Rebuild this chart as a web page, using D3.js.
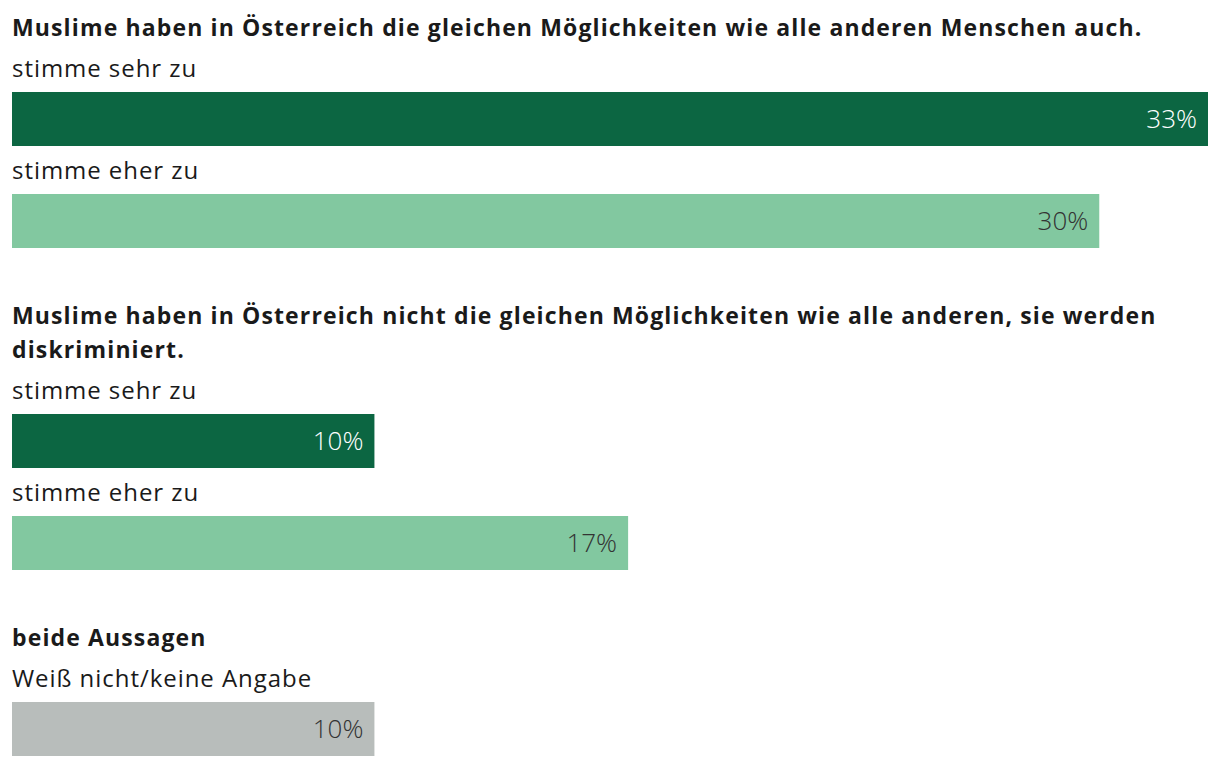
<!DOCTYPE html>
<html><head><meta charset="utf-8">
<script src="https://cdn.jsdelivr.net/npm/d3@7"></script>
<style>
html,body{margin:0;padding:0;background:#fff;}
svg{display:block;}
</style></head>
<body>
<script>
const groupTitles = [
  ["Muslime haben in Österreich die gleichen Möglichkeiten wie alle anderen Menschen auch."],
  ["Muslime haben in Österreich nicht die gleichen Möglichkeiten wie alle anderen, sie werden", "diskriminiert."],
  ["beide Aussagen"]
];
const categories = [
  ["stimme sehr zu", "stimme eher zu"],
  ["stimme sehr zu", "stimme eher zu"],
  ["Weiß nicht/keine Angabe"]
];
const values = [
  [33, 30],
  [10, 17],
  [10]
];
const colorKeys = [
  ["sehr", "eher"],
  ["sehr", "eher"],
  ["na"]
];
const palette = {sehr: "#0c6642", eher: "#82c8a0", na: "#b8bdbb"};
const labelColor = {sehr: "#ffffff", eher: "#333333", na: "#333333"};

const W = 1220, H = 766;
const svg = d3.select("body").append("svg").attr("width", W).attr("height", H);
const font = "'Open Sans', sans-serif";

const allVals = values.flat();
const x = d3.scaleLinear().domain([0, d3.max(allVals)]).range([12, 1208]);

const titleLine = 34, barH = 54;
let y = 28; // center of first title line
groupTitles.forEach((lines, gi) => {
  lines.forEach((ln, li) => {
    svg.append("text").attr("x", 12).attr("y", y + li * titleLine)
      .attr("dy", "0.35em").attr("font-family", font).attr("font-weight", 700)
      .attr("font-size", 23).attr("letter-spacing", 1.13).attr("fill", "#1a1a1a").text(ln);
  });
  let top = y + (lines.length - 1) * titleLine + 64; // bar top
  categories[gi].forEach((cat, ci) => {
    svg.append("text").attr("x", 12).attr("y", top - 23).attr("dy", "0.35em")
      .attr("font-family", font).attr("font-size", 24).attr("letter-spacing", 0.95)
      .attr("fill", "#1a1a1a").text(cat);
    const v = values[gi][ci], k = colorKeys[gi][ci];
    svg.append("rect").attr("x", x(0)).attr("y", top).attr("width", x(v) - x(0)).attr("height", barH)
      .attr("fill", palette[k]);
    svg.append("text").attr("x", x(v) - 11).attr("y", top + barH / 2).attr("dy", "0.35em")
      .attr("text-anchor", "end").attr("font-family", font).attr("font-weight", 300)
      .attr("font-size", 26).attr("fill", labelColor[k]).text(v + "%");
    top += barH + 48;
  });
  y = top - 48 + 68;
});
</script>
</body></html>
